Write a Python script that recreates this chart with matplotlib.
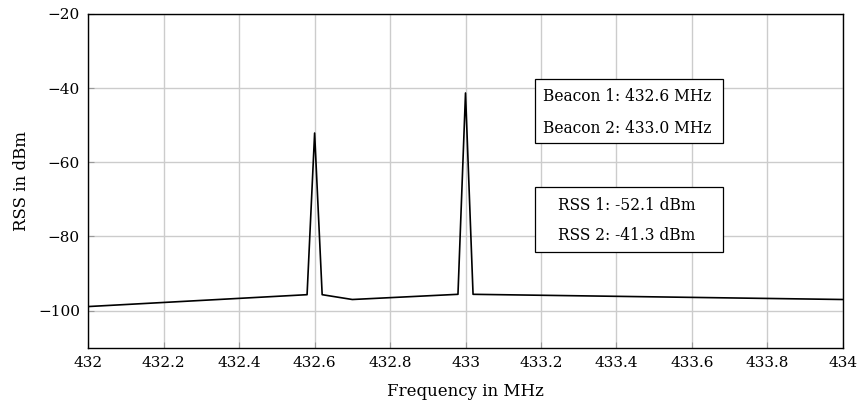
import matplotlib.pyplot as plt
from matplotlib.patches import Rectangle

# spectrum trace
freq = [432.0, 432.58, 432.6, 432.62, 432.7, 432.98, 433.0, 433.02, 434.0]
rss = [-98.9, -95.7, -52.1, -95.7, -97.0, -95.6, -41.3, -95.6, -97.0]

x_ticks = [432, 432.2, 432.4, 432.6, 432.8, 433, 433.2, 433.4, 433.6, 433.8, 434]
x_labels = ["432", "432.2", "432.4", "432.6", "432.8", "433", "433.2", "433.4", "433.6", "433.8", "434"]
y_ticks = [-100, -80, -60, -40, -20]

beacon_lines = ["Beacon 1: 432.6 MHz", "Beacon 2: 433.0 MHz"]
rss_lines = ["RSS 1: -52.1 dBm", "RSS 2: -41.3 dBm"]

plt.rcParams["font.family"] = ["DejaVu Serif"]
plt.rcParams["font.size"] = 11

fig = plt.figure(figsize=(8.58, 4.03), dpi=100)
ax = fig.add_axes([0.1029, 0.1372, 0.8793, 0.8281])

ax.plot(freq, rss, color="black", linewidth=1.2)

ax.set_xlim(432, 434)
ax.set_ylim(-110, -20)
ax.set_xticks(x_ticks)
ax.set_xticklabels(x_labels)
ax.set_yticks(y_ticks)
ax.grid(True, color="#cccccc", linewidth=1)
ax.set_axisbelow(True)
ax.tick_params(direction="in", length=4, color="#999999", pad=6, labelsize=11)
for s in ax.spines.values():
    s.set_linewidth(1)

ax.set_xlabel("Frequency in MHz", fontsize=12, labelpad=9)
ax.set_ylabel("RSS in dBm", fontsize=12, labelpad=6)

# annotation boxes (axes fraction)
for y0, y1 in [(0.6125, 0.804), (0.2877, 0.4825)]:
    ax.add_patch(Rectangle((0.5921, y0), 0.8417 - 0.5921, y1 - y0, transform=ax.transAxes,
                           facecolor="white", edgecolor="black", linewidth=0.9, zorder=5))
for txt, y in zip(beacon_lines + rss_lines, [0.7525, 0.6575, 0.4276, 0.3357]):
    ax.text(0.7141, y, txt, transform=ax.transAxes, ha="center", va="center",
            fontsize=11.2, zorder=6)

fig.savefig("out.png", dpi=100)
